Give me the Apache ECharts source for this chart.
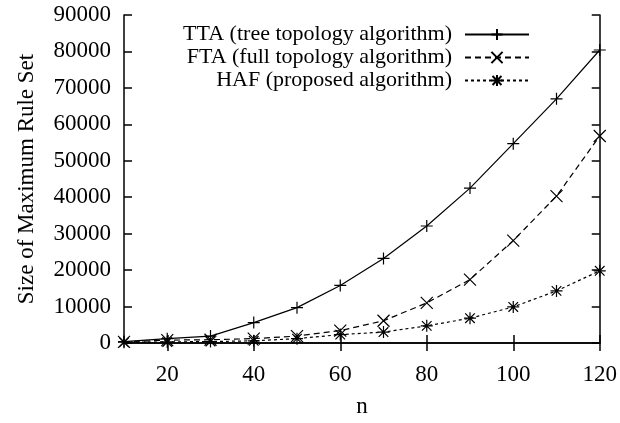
<!DOCTYPE html>
<html><head><meta charset="utf-8">
<script src="https://cdn.jsdelivr.net/npm/echarts@6/dist/echarts.min.js"></script>
<style>html,body{margin:0;padding:0;background:#fff}#c{width:620px;height:423px}</style>
</head><body><div id="c"></div>
<script>
const nValues = [10,20,30,40,50,60,70,80,90,100,110,120];
const ttaValues = [400,1200,1900,5600,9700,15800,23200,32100,42500,54700,67000,80400];
const ftaValues = [300,800,900,1200,1900,3400,6100,11000,17400,28100,40300,56800];
const hafValues = [200,300,400,600,1200,2300,3000,4700,6800,9900,14300,19800];
const xTicks = [20,40,60,80,100,120];
const seriesNames = ['TTA (tree topology algorithm)','FTA (full topology algorithm)','HAF (proposed algorithm)'];

const pair = (xs, ys) => xs.map((x,i)=>[x, ys[i]]);
const FONT = '"Liberation Serif","DejaVu Serif",serif';
const plus = 'path://M0,-10 L0,10 M-10,0 L10,0';
const cross = 'path://M-10,-10 L10,10 M-10,10 L10,-10';
const star = 'path://M0,-10 L0,10 M-10,0 L10,0 M-8,-8 L8,8 M-8,8 L8,-8';
const mk = (name, data, sym, type) => ({
  name, type:'line', data, symbol: sym, symbolSize: 12, showAllSymbol:true,
  lineStyle:{color:'#000', width:1.2, type},
  itemStyle:{color:'rgba(0,0,0,0)', borderColor:'#000', borderWidth:1.2},
  emphasis:{disabled:true}, animation:false
});
const chart = echarts.init(document.getElementById('c'));
const axLine = {show:true, lineStyle:{color:'#000', width:1.5}};
chart.setOption({
  animation:false,
  grid:{left:124, right:19, top:15, bottom:71},
  legend:{
    right:85, top:18, orient:'vertical', align:'right',
    itemWidth:64, itemHeight:14, itemGap:0,
    textStyle:{fontFamily:FONT, fontSize:22, lineHeight:23, color:'#000', padding:[0,8,0,0]},
    data: seriesNames
  },
  xAxis:[{
    type:'value', min:10, max:120, position:'bottom',
    name:'n', nameLocation:'middle', nameGap:52,
    nameTextStyle:{fontFamily:FONT, fontSize:23, color:'#000'},
    axisLine:axLine,
    axisTick:{show:true, inside:true, length:8, customValues:xTicks, lineStyle:{color:'#000', width:1.5}},
    axisLabel:{customValues:xTicks, fontFamily:FONT, fontSize:23, color:'#000', margin:20},
    splitLine:{show:false}
  },{
    type:'value', min:10, max:120, position:'top',
    axisLine:axLine,
    axisTick:{show:true, inside:true, length:8, customValues:xTicks, lineStyle:{color:'#000', width:1.5}},
    axisLabel:{show:false}, splitLine:{show:false}
  }],
  yAxis:[{
    type:'value', min:0, max:90000, interval:10000, position:'left',
    name:'Size of Maximum Rule Set', nameLocation:'middle', nameGap:86,
    nameTextStyle:{fontFamily:FONT, fontSize:23, color:'#000'},
    axisLine:axLine,
    axisTick:{show:true, inside:true, length:8, lineStyle:{color:'#000', width:1.5}},
    axisLabel:{fontFamily:FONT, fontSize:23, color:'#000', margin:13, formatter: v => String(v)},
    splitLine:{show:false}
  },{
    type:'value', min:0, max:90000, interval:10000, position:'right',
    axisLine:axLine,
    axisTick:{show:true, inside:true, length:8, lineStyle:{color:'#000', width:1.5}},
    axisLabel:{show:false}, splitLine:{show:false}
  }],
  series:[
    mk(seriesNames[0], pair(nValues, ttaValues), plus, 'solid'),
    mk(seriesNames[1], pair(nValues, ftaValues), cross, [6,4]),
    mk(seriesNames[2], pair(nValues, hafValues), star, [3,3])
  ]
});
</script></body></html>
